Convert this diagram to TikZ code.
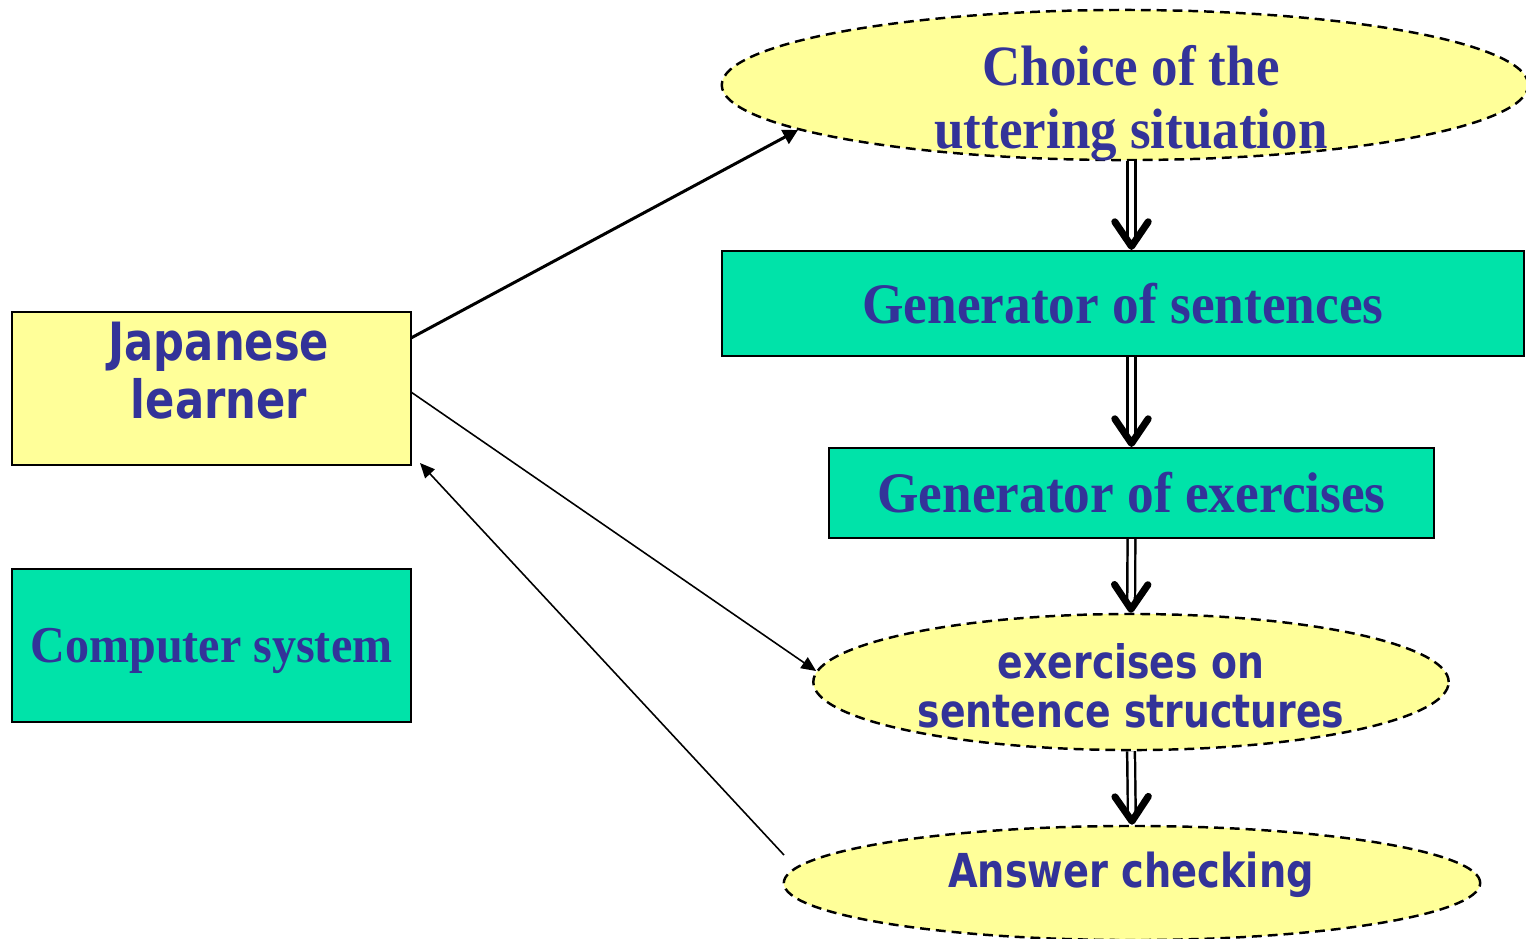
\documentclass[tikz,border=0pt]{standalone}
\usepackage{fontspec}
\usepackage{tikz}
\usetikzlibrary{arrows.meta,shapes.geometric}

\newfontfamily\timesbf{Liberation Serif}[FakeStretch=0.93]
\newfontfamily\tahomabf{DejaVu Sans}[FakeStretch=0.82]
\definecolor{txtblue}{HTML}{333399}
\definecolor{boxyellow}{HTML}{FFFF99}
\definecolor{boxgreen}{HTML}{00E3A9}

\tikzset{
  greenbox/.style={draw, line width=0.6pt, fill=boxgreen, text=txtblue, inner sep=0pt},
  yellowbox/.style={draw, line width=0.6pt, fill=boxyellow, inner sep=0pt},
  blob/.style={ellipse, draw, dash pattern=on 2.8pt off 1.7pt, line width=0.7pt, fill=boxyellow, inner sep=0pt},
  serif/.style={text=txtblue, font=\timesbf\bfseries\fontsize{#1}{#1}\selectfont},
  sans/.style={text=txtblue, font=\tahomabf\bfseries\fontsize{#1}{#1}\selectfont},
  thickarr/.style={line width=0.85pt, -{Triangle[length=4.2pt,width=4.4pt]}},
  thinarr/.style={line width=0.45pt, -{Triangle[length=4.2pt,width=3.7pt]}},
  dbl/.style={double, double distance=1.5pt, line width=0.7pt, shorten >=1.5pt},
  vtip/.style={draw=white, line width=0.1pt, -{Straight Barb[length=7pt,width=9.5pt,line width=2pt,color=black,round]}},
}

\begin{document}
\begin{tikzpicture}[x=0.01cm,y=-0.01cm]
\useasboundingbox (0,0) rectangle (1526,938);

% right column
\node[blob, minimum width=8.06cm, minimum height=1.5cm] (choice) at (1125,85) {};
\node[serif=16.2, align=center, anchor=base] (choicetxt) at (1131,148)
  {Choice of the\\[1.7pt]uttering situation};
\node[greenbox, serif=16.3, minimum width=8.02cm, minimum height=1.05cm] (sent) at (1123,303.5) {Generator of sentences};
\node[greenbox, serif=16.3, minimum width=6.05cm, minimum height=0.9cm] (exer) at (1131.5,493) {Generator of exercises};
\node[blob, minimum width=6.35cm, minimum height=1.36cm] (ex) at (1131,682) {};
\node[sans=13.1, align=center, anchor=base] (extxt) at (1131,727)
  {exercises on\\[0.6pt]sentence structures};
\node[blob, minimum width=6.96cm, minimum height=1.14cm] (ans) at (1132,883) {};
\node[sans=13.3, anchor=base] (anstxt) at (1131,887) {Answer checking};

% left column
\node[yellowbox, minimum width=3.99cm, minimum height=1.53cm] (jap) at (211.5,388.5) {};
\node[sans=15, align=center, anchor=base] (japtxt) at (219,418)
  {Japanese\\[1.3pt]learner};
\node[greenbox, serif=14.7, text height=9.7pt, text depth=0pt,
  minimum width=3.99cm, minimum height=1.53cm] (comp) at (211.5,645.5) {Computer system};

% double arrows down the chain
\coordinate (d1) at (exer.north |- choice.south);
\coordinate (d2) at (exer.north |- sent.north);
\coordinate (d3) at (exer.north |- sent.south);
\foreach \a/\b in {d1/d2, d3/exer.north, exer.south/ex.north, ex.south/ans.north}{
  \draw[dbl] (\a) -- (\b);
  \draw[vtip] (\a) -- (\b);
}

% learner arrows
\coordinate (j1) at (411,338);
\coordinate (j2) at (411,392);
\coordinate (j3) at (420,463);
\coordinate (c1) at (798,130);
\coordinate (a1) at (784,855);
\draw[thickarr] (j1) -- (c1);
\draw[thinarr] (j2) -- (ex.178);
\draw[thinarr] (a1) -- (j3);

\end{tikzpicture}
\end{document}
